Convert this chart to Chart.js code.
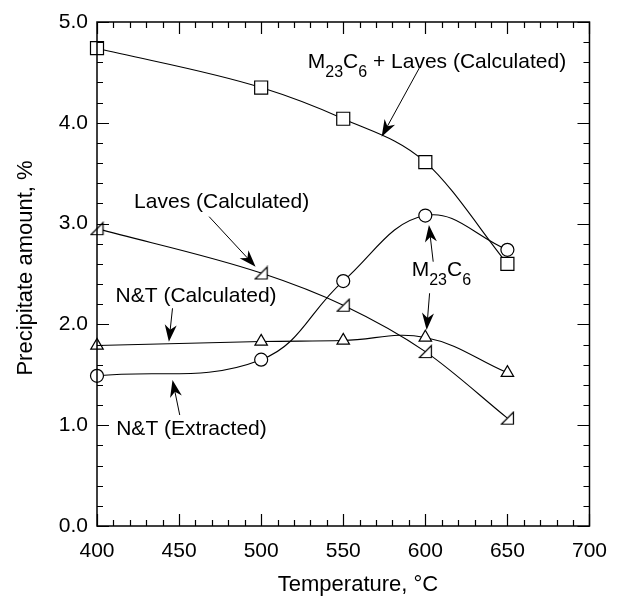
<!DOCTYPE html>
<html>
<head>
<meta charset="utf-8">
<script src="https://cdn.jsdelivr.net/npm/chart.js@4.4.0/dist/chart.umd.min.js"></script>
<style>
  html, body { margin: 0; padding: 0; background: #fff; }
</style>
</head>
<body>
<canvas id="chart" width="620" height="596"></canvas>
<script>
const temps = [400, 500, 550, 600, 650];
const m23c6Laves = [4.74, 4.35, 4.04, 3.61, 2.60];
const extracted = [1.49, 1.65, 2.43, 3.08, 2.74];
const ntCalc = [1.79, 1.83, 1.84, 1.87, 1.52];
const lavesCalc = [2.95, 2.51, 2.19, 1.73, 1.07];

const xTicks = [400, 450, 500, 550, 600, 650, 700];
const yTicks = [0, 1, 2, 3, 4, 5];

// labels and arrows, in data units
const notes = [
  { parts: [['M'], ['23', 1], ['C'], ['6', 1], [' + Laves (Calculated)']], x: 528.4, y: 4.541,
    arrows: [[596.8, 4.557, 573.4, 3.862]] },
  { parts: [['Laves (Calculated)']], x: 422.6, y: 3.155,
    arrows: [[468.3, 3.069, 496.6, 2.572]] },
  { parts: [['N&T (Calculated)']], x: 411.3, y: 2.225,
    arrows: [[446.0, 2.160, 443.8, 1.828]] },
  { parts: [['N&T (Extracted)']], x: 411.7, y: 0.903,
    arrows: [[450.4, 1.101, 446.0, 1.448]] },
  { parts: [['M'], ['23', 1], ['C'], ['6', 1]], x: 591.7, y: 2.48,
    arrows: [[604.8, 2.622, 602.2, 2.986], [602.6, 2.309, 600.8, 1.944]] }
];

const FONT = '"Liberation Sans", Arial, Helvetica, sans-serif';

function rightTri(size) {
  const c = document.createElement('canvas');
  c.width = size + 2;
  c.height = size + 2;
  const g = c.getContext('2d');
  g.beginPath();
  g.moveTo(1.5, size + 0.5);
  g.lineTo(size + 0.5, size + 0.5);
  g.lineTo(size + 0.5, 1.5);
  g.closePath();
  g.fillStyle = '#fff';
  g.fill();
  g.strokeStyle = '#000';
  g.lineWidth = 1.2;
  g.stroke();
  return c;
}

function pts(vals) {
  return temps.map((t, i) => ({ x: t, y: vals[i] }));
}

function series(vals, style, radius, mode) {
  return {
    data: pts(vals),
    borderColor: '#000',
    borderWidth: 1.1,
    backgroundColor: '#fff',
    pointBackgroundColor: '#fff',
    pointBorderColor: '#000',
    pointBorderWidth: 1.2,
    pointStyle: style,
    pointRadius: radius,
    tension: 0.4,
    cubicInterpolationMode: mode || 'default',
    fill: false,
    clip: false
  };
}

function arrow(ctx, x1, y1, x2, y2) {
  const a = Math.atan2(y2 - y1, x2 - x1);
  const len = 17, w = 6;
  ctx.beginPath();
  ctx.moveTo(x1, y1);
  ctx.lineTo(x2 - Math.cos(a) * 10, y2 - Math.sin(a) * 10);
  ctx.stroke();
  ctx.save();
  ctx.translate(x2, y2);
  ctx.rotate(a);
  ctx.beginPath();
  ctx.moveTo(0, 0);
  ctx.lineTo(-len, -w);
  ctx.lineTo(-len + 5, 0);
  ctx.lineTo(-len, w);
  ctx.closePath();
  ctx.fill();
  ctx.restore();
}

const decor = {
  id: 'decor',
  afterDraw(chart) {
    const { ctx, chartArea: ca, scales: { x, y } } = chart;
    ctx.save();
    ctx.strokeStyle = '#000';
    ctx.fillStyle = '#000';

    // frame
    ctx.lineWidth = 1.5;
    ctx.strokeRect(ca.left, ca.top, ca.right - ca.left, ca.bottom - ca.top);

    // inward ticks on all four sides
    ctx.lineWidth = 1.2;
    ctx.beginPath();
    for (let v = 400; v <= 700; v += 10) {
      const px = Math.round(x.getPixelForValue(v)) + 0.5;
      const l = v % 50 === 0 ? 12 : 6;
      ctx.moveTo(px, ca.bottom); ctx.lineTo(px, ca.bottom - l);
      ctx.moveTo(px, ca.top); ctx.lineTo(px, ca.top + l);
    }
    for (let k = 0; k <= 25; k++) {
      const py = Math.round(y.getPixelForValue(k * 0.2)) + 0.5;
      const l = k % 5 === 0 ? 12 : 6;
      ctx.moveTo(ca.left, py); ctx.lineTo(ca.left + l, py);
      ctx.moveTo(ca.right, py); ctx.lineTo(ca.right - l, py);
    }
    ctx.stroke();

    // axis titles
    ctx.font = '22px ' + FONT;
    ctx.textAlign = 'center';
    ctx.textBaseline = 'alphabetic';
    ctx.fillText('Temperature, \u00B0C', 358, 591);
    ctx.save();
    ctx.translate(32, 268);
    ctx.rotate(-Math.PI / 2);
    ctx.fillText('Precipitate amount, %', 0, 0);
    ctx.restore();

    // annotations
    ctx.textAlign = 'left';
    ctx.lineWidth = 1;
    notes.forEach(n => {
      let px = x.getPixelForValue(n.x);
      const py = y.getPixelForValue(n.y);
      n.parts.forEach(([t, sub]) => {
        ctx.font = (sub ? '16px ' : '21px ') + FONT;
        ctx.fillText(t, px, sub ? py + 9 : py);
        px += ctx.measureText(t).width;
      });
      n.arrows.forEach(a => {
        arrow(ctx, x.getPixelForValue(a[0]), y.getPixelForValue(a[1]),
          x.getPixelForValue(a[2]), y.getPixelForValue(a[3]));
      });
    });
    ctx.restore();
  }
};

new Chart(document.getElementById('chart'), {
  type: 'line',
  data: {
    datasets: [
      series(m23c6Laves, 'rect', 9.2, 'monotone'),
      series(extracted, 'circle', 6.5),
      series(ntCalc, 'triangle', 7.2),
      series(lavesCalc, rightTri(13), 7, 'monotone')
    ]
  },
  options: {
    responsive: false,
    animation: false,
    devicePixelRatio: 1,
    layout: { padding: { top: 22, right: 19, left: 0, bottom: 0 } },
    plugins: { legend: { display: false }, tooltip: { enabled: false } },
    scales: {
      x: {
        type: 'linear',
        min: 400, max: 700,
        afterFit: s => { s.height = 70; },
        afterBuildTicks: s => { s.ticks = xTicks.map(v => ({ value: v })); },
        grid: { display: false, drawTicks: false },
        border: { display: false },
        ticks: { color: '#000', padding: 13, font: { size: 21, family: FONT } }
      },
      y: {
        min: 0, max: 5,
        afterFit: s => { s.width = 97; },
        afterBuildTicks: s => { s.ticks = yTicks.map(v => ({ value: v })); },
        grid: { display: false, drawTicks: false },
        border: { display: false },
        ticks: {
          color: '#000', padding: 9, font: { size: 21, family: FONT },
          callback: v => v.toFixed(1)
        }
      }
    }
  },
  plugins: [decor]
});
</script>
</body>
</html>
